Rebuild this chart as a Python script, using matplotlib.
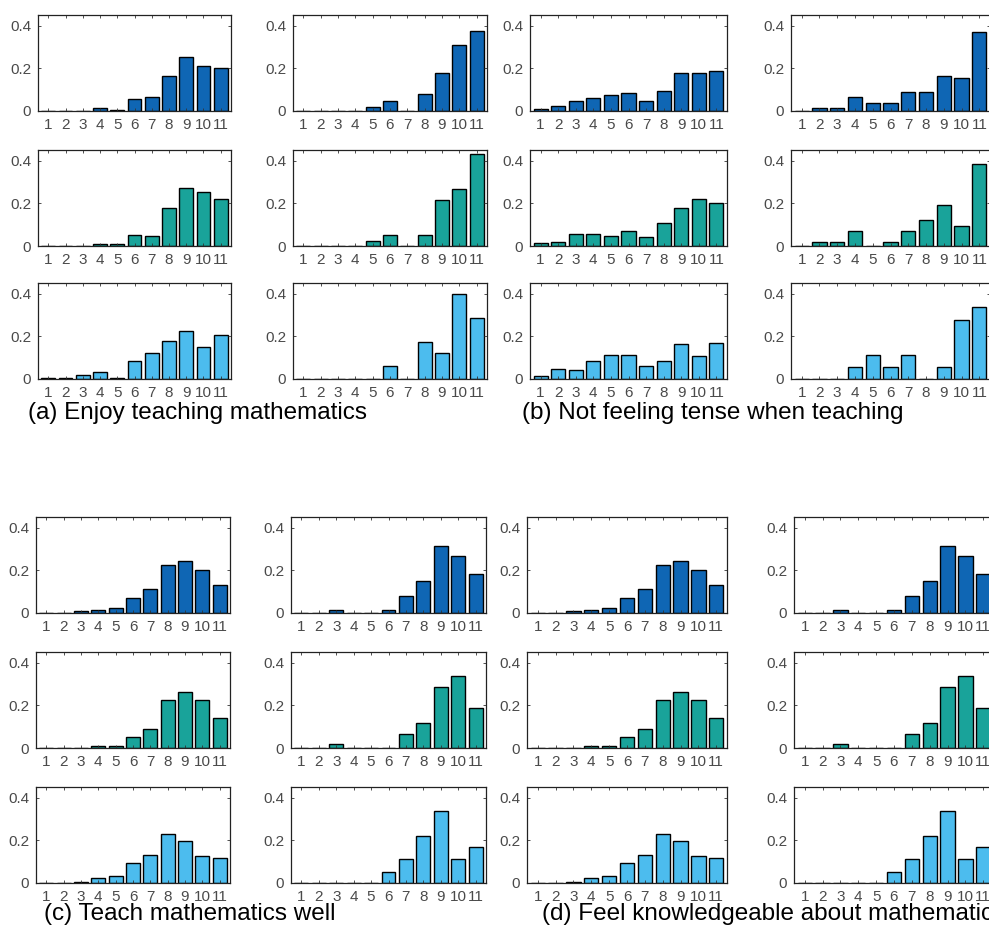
import numpy as np
import matplotlib
matplotlib.use("Agg")
import matplotlib.pyplot as plt

plt.rcParams['font.family'] = ['Liberation Sans', 'DejaVu Sans']

# Response categories 1..11
cats = np.arange(1, 12)
tick_labels = [str(c) for c in cats]

# (a) Enjoy teaching mathematics  (rows: blue, teal, light blue; cols: left, right)
enjoy_r1_l = [0, 0, 0, 0.014, 0.006, 0.058, 0.064, 0.164, 0.255, 0.211, 0.203]
enjoy_r1_r = [0, 0, 0, 0, 0.017, 0.045, 0, 0.081, 0.177, 0.309, 0.373]
enjoy_r2_l = [0, 0, 0, 0.009, 0.009, 0.052, 0.047, 0.178, 0.272, 0.252, 0.220]
enjoy_r2_r = [0, 0, 0, 0, 0.025, 0.052, 0, 0.052, 0.214, 0.266, 0.430]
enjoy_r3_l = [0.006, 0.006, 0.020, 0.031, 0.006, 0.083, 0.121, 0.178, 0.224, 0.150, 0.208]
enjoy_r3_r = [0, 0, 0, 0, 0, 0.060, 0, 0.172, 0.120, 0.400, 0.288]

# (b) Not feeling tense when teaching
tense_r1_l = [0.011, 0.025, 0.047, 0.061, 0.076, 0.084, 0.047, 0.092, 0.179, 0.179, 0.187]
tense_r1_r = [0, 0.014, 0.014, 0.066, 0.039, 0.039, 0.088, 0.088, 0.166, 0.153, 0.370]
tense_r2_l = [0.014, 0.021, 0.056, 0.056, 0.049, 0.072, 0.041, 0.107, 0.179, 0.221, 0.200]
tense_r2_r = [0, 0.021, 0.021, 0.072, 0, 0.021, 0.072, 0.122, 0.194, 0.093, 0.386]
tense_r3_l = [0.014, 0.049, 0.043, 0.085, 0.114, 0.114, 0.063, 0.084, 0.165, 0.107, 0.171]
tense_r3_r = [0, 0, 0, 0.056, 0.114, 0.056, 0.114, 0, 0.056, 0.278, 0.336]

# (c) Teach mathematics well
teach_r1_l = [0, 0, 0.008, 0.015, 0.023, 0.069, 0.111, 0.227, 0.244, 0.200, 0.133]
teach_r1_r = [0, 0, 0.015, 0, 0, 0.015, 0.082, 0.150, 0.316, 0.266, 0.183]
teach_r2_l = [0, 0, 0, 0.008, 0.008, 0.052, 0.089, 0.224, 0.262, 0.224, 0.141]
teach_r2_r = [0, 0, 0.020, 0, 0, 0, 0.066, 0.119, 0.284, 0.337, 0.187]
teach_r3_l = [0, 0, 0.006, 0.022, 0.035, 0.094, 0.131, 0.230, 0.197, 0.125, 0.117]
teach_r3_r = [0, 0, 0, 0, 0, 0.051, 0.111, 0.220, 0.339, 0.111, 0.168]

# (d) Feel knowledgeable about mathematics (same bars as (c) in the source figure)
know_r1_l = [0, 0, 0.008, 0.015, 0.023, 0.069, 0.111, 0.227, 0.244, 0.200, 0.133]
know_r1_r = [0, 0, 0.015, 0, 0, 0.015, 0.082, 0.150, 0.316, 0.266, 0.183]
know_r2_l = [0, 0, 0, 0.008, 0.008, 0.052, 0.089, 0.224, 0.262, 0.224, 0.141]
know_r2_r = [0, 0, 0.020, 0, 0, 0, 0.066, 0.119, 0.284, 0.337, 0.187]
know_r3_l = [0, 0, 0.006, 0.022, 0.035, 0.094, 0.131, 0.230, 0.197, 0.125, 0.117]
know_r3_r = [0, 0, 0, 0, 0, 0.051, 0.111, 0.220, 0.339, 0.111, 0.168]

captions = ['(a) Enjoy teaching mathematics',
            '(b) Not feeling tense when teaching',
            '(c) Teach mathematics well',
            '(d) Feel knowledgeable about mathematics']

row_colors = ['#0f66b4', '#19a39a', '#4cbcee']

panels = [
    [[enjoy_r1_l, enjoy_r1_r], [enjoy_r2_l, enjoy_r2_r], [enjoy_r3_l, enjoy_r3_r]],
    [[tense_r1_l, tense_r1_r], [tense_r2_l, tense_r2_r], [tense_r3_l, tense_r3_r]],
    [[teach_r1_l, teach_r1_r], [teach_r2_l, teach_r2_r], [teach_r3_l, teach_r3_r]],
    [[know_r1_l, know_r1_r], [know_r2_l, know_r2_r], [know_r3_l, know_r3_r]],
]

W, H = 989, 940
fig = plt.figure(figsize=(W / 100, H / 100), dpi=100)

# pixel layout: column lefts/widths per panel, row tops
col_px = [[(38, 193), (293, 194)],
          [(530, 197), (791, 199)],
          [(36, 194), (291, 195)],
          [(527, 200), (794, 200)]]
row_tops = [[15, 150, 283], [15, 150, 283], [517, 652, 787], [517, 652, 787]]
ax_h = 96
cap_pos = [(28, 413), (522, 413), (44, 914), (542, 914)]


def px_axes(left, top, width, height):
    return fig.add_axes([left / W, 1 - (top + height) / H, width / W, height / H])


for p, panel in enumerate(panels):
    for r, row in enumerate(panel):
        for c, vals in enumerate(row):
            left, width = col_px[p][c]
            ax = px_axes(left, row_tops[p][r], width, ax_h)
            ax.bar(cats, vals, width=0.8, color=row_colors[r],
                   edgecolor='black', linewidth=1.0)
            ax.set_xlim(0.4, 11.6)
            ax.set_ylim(0, 0.45)
            ax.set_xticks(cats)
            ax.set_xticklabels(tick_labels)
            ax.set_yticks([0, 0.2, 0.4])
            ax.set_yticklabels(['0', '0.2', '0.4'])
            ax.tick_params(direction='in', length=2.5, width=0.6,
                           top=True, right=True, labelsize=11,
                           labelcolor='#4a4a4a', color='#333333', pad=5)
            for s in ax.spines.values():
                s.set_linewidth(0.9)
                s.set_color('#222222')
    x, y = cap_pos[p]
    fig.text(x / W, 1 - y / H, captions[p], fontsize=17.5, va='center', ha='left',
             color='black')

fig.savefig('out.png', dpi=100)
